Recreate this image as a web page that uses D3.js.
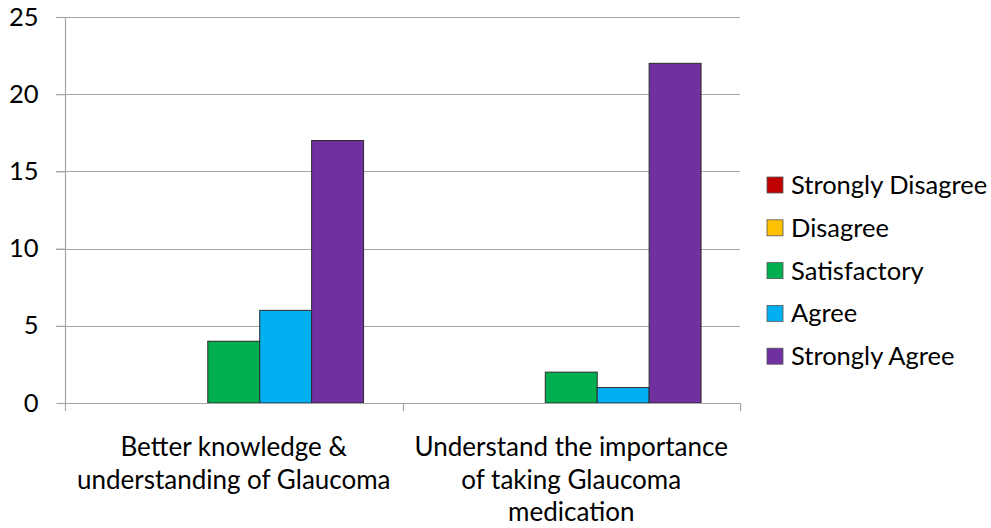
<!DOCTYPE html>
<html>
<head>
<meta charset="utf-8">
<script src="https://cdn.jsdelivr.net/npm/d3@7/dist/d3.min.js"></script>
<style>
html,body{margin:0;padding:0;background:#fff;}
svg{display:block;}
text{font-family:Lato,"Open Sans",sans-serif;fill:#000;}
</style>
</head>
<body>
<svg id="chart" width="991" height="528"></svg>
<script>
const categories = [
  ["Better knowledge &", "understanding of Glaucoma"],
  ["Understand the importance", "of taking Glaucoma", "medication"]
];
const seriesNames = ["Strongly Disagree", "Disagree", "Satisfactory", "Agree", "Strongly Agree"];
const seriesColors = ["#C00000", "#FFC000", "#00B050", "#00B0F0", "#7030A0"];
const seriesValues = [
  [0, 0],
  [0, 0],
  [4, 2],
  [6, 1],
  [17, 22]
];
const yTicks = [0, 5, 10, 15, 20, 25];

const svg = d3.select("#chart");
const plotLeft = 65, plotRight = 740, plotTop = 17, plotBottom = 403;

const y = d3.scaleLinear().domain([0, 25]).range([plotBottom, plotTop]);
const x0 = d3.scaleBand().domain(d3.range(categories.length)).range([plotLeft, plotRight]).paddingInner(0).paddingOuter(0);
// Excel gap width 150%: group occupies 5/(5+1.5) of band
const groupFrac = 5 / 6.5;
const x1 = d3.scaleBand().domain(d3.range(seriesNames.length))
  .range([0, x0.bandwidth() * groupFrac]).padding(0);
const groupOffset = x0.bandwidth() * (1 - groupFrac) / 2;

// gridlines
svg.append("g").selectAll("line").data(yTicks.filter(d => d > 0)).join("line")
  .attr("x1", plotLeft - 9).attr("x2", plotRight)
  .attr("y1", d => Math.round(y(d)) + 0.5).attr("y2", d => Math.round(y(d)) + 0.5)
  .attr("stroke", "#a6a6a6").attr("stroke-width", 1.2);

// y axis
const yAxis = d3.axisLeft(y).tickValues(yTicks).tickSize(9).tickPadding(18).tickFormat(d3.format("d"));
const gy = svg.append("g").attr("transform", `translate(${plotLeft + 0.5},0)`).call(yAxis);
gy.select(".domain").attr("stroke", "#a6a6a6").attr("stroke-width", 1.2).attr("d", `M0,${plotTop}V${plotBottom}`);
gy.selectAll(".tick line").attr("stroke", "#a6a6a6").attr("stroke-width", 1.2);
gy.selectAll(".tick text").attr("font-size", 25.5).attr("font-family", "Lato, sans-serif").attr("fill", "#000");

// bars
seriesValues.forEach((vals, si) => {
  svg.append("g").selectAll("rect").data(vals).join("rect")
    .attr("x", (d, ci) => x0(ci) + groupOffset + x1(si))
    .attr("y", d => y(d))
    .attr("width", x1.bandwidth())
    .attr("height", d => y(0) - y(d))
    .attr("fill", seriesColors[si])
    .attr("stroke", d => d > 0 ? "#2b2b2b" : "none")
    .attr("stroke-width", 1);
});

// x axis
svg.append("line").attr("x1", plotLeft).attr("x2", plotRight)
  .attr("y1", plotBottom + 0.5).attr("y2", plotBottom + 0.5)
  .attr("stroke", "#a6a6a6").attr("stroke-width", 1.2);
const xTickPos = [plotLeft, ...categories.map((c, i) => x0(i) + x0.bandwidth())];
svg.append("g").selectAll("line").data(xTickPos).join("line")
  .attr("x1", d => Math.round(d) + 0.5).attr("x2", d => Math.round(d) + 0.5)
  .attr("y1", plotBottom).attr("y2", plotBottom + 8)
  .attr("stroke", "#a6a6a6").attr("stroke-width", 1.2);

// category labels
categories.forEach((lines, ci) => {
  const cx = x0(ci) + x0.bandwidth() / 2;
  const t = svg.append("text").attr("text-anchor", "middle").attr("font-size", 26);
  lines.forEach((ln, li) => {
    t.append("tspan").attr("x", cx).attr("y", 456 + li * 32.5).text(ln);
  });
});

// legend
const lg = svg.append("g");
seriesNames.forEach((name, i) => {
  const cy = 185 + i * 42.8;
  lg.append("rect").attr("x", 767).attr("y", cy - 8).attr("width", 16).attr("height", 16)
    .attr("fill", seriesColors[i]).attr("stroke", "#555").attr("stroke-width", 0.8);
  lg.append("text").attr("x", 791).attr("y", cy + 9).attr("font-size", 25.5).text(name);
});
</script>
</body>
</html>
